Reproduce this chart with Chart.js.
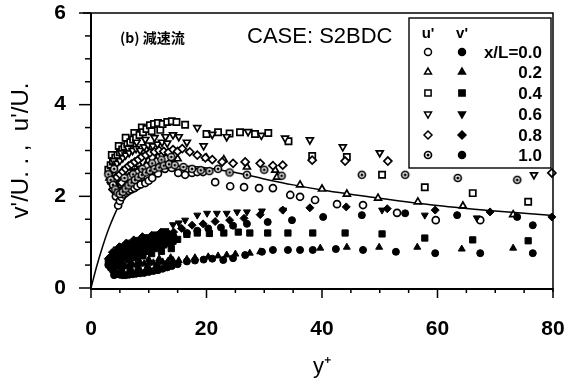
<!DOCTYPE html>
<html><head><meta charset="utf-8">
<script src="https://cdn.jsdelivr.net/npm/chart.js@4/dist/chart.umd.min.js"></script>
<style>html,body{margin:0;padding:0;background:#fff;}canvas{display:block;}</style>
</head><body>
<canvas id="c" width="578" height="385"></canvas>
<script>
// ---- data: [y+, value] ----
const seriesLabels = ["x/L=0.0", "0.2", "0.4", "0.6", "0.8", "1.0"];
const xTickLabels = ["0", "20", "40", "60", "80"];
const yTickLabels = ["0", "2", "4", "6"];

// u' (open markers)
const u00 = [[4.3,2.0],[4.7,1.8],[5.0,1.9],[5.3,1.98],[5.6,2.2],[5.7,2.04],[6.1,2.08],[6.5,2.12],[6.8,2.28],[7.0,2.15],[7.5,2.18],[8.0,2.22],[8.2,2.36],[8.6,2.26],[9.4,2.29],[9.7,2.44],[10.0,2.34],[10.6,2.4],[11.2,2.55],[11.6,2.5],[12.8,2.6],[13.4,2.68],[14.0,2.62],[15.1,2.51],[16.3,2.47],[17.5,2.51],[18.4,2.53],[19.4,2.53],[21.5,2.31],[24.1,2.22],[26.5,2.2],[29.1,2.18],[31.5,2.18],[34.5,2.03],[36.2,1.99],[38.8,1.92],[42.6,1.83],[47.1,1.81],[53.0,1.64],[59.7,1.48],[67.4,1.48]];
const u02 = [[3.2,2.4],[3.6,2.32],[3.8,2.5],[4.0,2.26],[4.4,2.22],[4.8,2.2],[5.2,2.24],[5.4,2.55],[5.6,2.3],[6.0,2.36],[6.5,2.42],[6.7,2.62],[7.0,2.48],[7.5,2.52],[8.0,2.56],[8.3,2.7],[8.7,2.6],[9.4,2.64],[9.9,2.78],[10.2,2.68],[11.0,2.7],[11.6,2.86],[12.0,2.74],[13.0,2.76],[13.5,2.9],[14.0,2.8],[15.0,2.82],[20.0,2.84],[23.0,2.8],[27.0,2.64],[31.9,2.57],[32.2,2.42],[36.2,2.25],[40.0,2.16],[44.3,2.05],[49.7,1.96],[56.6,1.88],[64.4,1.79],[73.1,1.6]];
const u04 = [[3.0,2.58],[3.4,2.68],[3.6,2.9],[3.8,2.76],[4.2,2.84],[4.6,2.9],[4.8,3.1],[5.0,2.96],[5.4,3.02],[5.8,3.08],[6.0,3.28],[6.3,3.13],[6.8,3.18],[7.3,3.24],[7.5,3.38],[7.8,3.28],[8.4,3.34],[8.8,3.5],[9.0,3.4],[9.6,3.47],[10.2,3.55],[10.5,3.42],[10.9,3.58],[11.6,3.6],[12.0,3.45],[12.4,3.58],[13.2,3.62],[14.0,3.64],[14.8,3.62],[16.3,3.56],[20.0,3.36],[22.0,3.4],[24.0,3.37],[25.8,3.4],[28.4,3.36],[30.7,3.38],[34.2,3.2],[38.3,2.88],[44.3,2.86],[50.4,2.47],[57.8,2.2],[66.1,2.07],[75.7,1.88]];
const u06 = [[3.3,2.5],[3.7,2.58],[3.9,2.78],[4.1,2.66],[4.5,2.72],[5.0,2.78],[5.2,2.95],[5.5,2.84],[6.0,2.9],[6.4,3.05],[6.6,2.95],[7.2,3.0],[7.8,3.04],[7.9,3.18],[8.5,3.0],[9.2,3.08],[9.4,3.24],[9.9,3.12],[10.7,3.1],[11.0,3.28],[11.5,3.14],[12.3,3.18],[12.9,3.3],[13.2,3.16],[14.2,3.34],[15.2,3.3],[16.6,3.18],[18.4,3.5],[19.5,3.1],[21.0,3.35],[23.5,3.3],[27.2,3.41],[29.5,3.33],[33.6,3.27],[37.9,3.23],[43.6,3.08],[50.0,2.95],[76.7,2.47]];
const u08 = [[3.5,2.3],[3.8,2.15],[4.0,2.36],[4.5,2.42],[5.0,2.48],[5.3,2.3],[5.5,2.54],[6.0,2.6],[6.5,2.66],[6.6,2.42],[7.0,2.7],[7.6,2.75],[8.0,2.52],[8.2,2.8],[8.8,2.86],[9.5,2.9],[9.6,2.66],[10.2,2.95],[11.0,2.97],[11.3,2.76],[11.8,3.0],[12.6,2.98],[13.0,2.82],[13.4,2.96],[14.2,3.02],[15.0,2.98],[15.8,3.04],[17.1,2.97],[18.4,2.9],[19.8,2.84],[21.0,2.8],[22.7,2.75],[24.6,2.72],[26.7,2.75],[29.3,2.72],[31.5,2.67],[33.2,2.68],[38.3,2.79],[44.0,2.77],[51.4,2.77],[79.8,2.51]];
const u10 = [[3.0,2.48],[3.4,2.36],[3.8,2.25],[4.0,2.6],[4.2,2.15],[4.6,2.08],[5.0,2.05],[5.5,2.1],[5.8,2.4],[6.0,2.17],[6.5,2.24],[7.0,2.3],[7.3,2.48],[7.6,2.36],[8.2,2.42],[8.8,2.47],[8.9,2.6],[9.5,2.52],[10.2,2.56],[10.6,2.72],[11.0,2.6],[11.8,2.63],[12.2,2.8],[12.6,2.67],[13.5,2.7],[13.9,2.86],[14.5,2.68],[16.0,2.64],[17.5,2.6],[19.0,2.57],[20.5,2.55],[22.0,2.6],[24.0,2.52],[27.0,2.47],[30.0,2.58],[33.0,2.45],[46.9,2.47],[54.4,2.47],[63.5,2.4],[73.8,2.36]];

// v' (filled markers)
const v00 = [[3.0,0.5],[3.4,0.44],[3.8,0.38],[4.0,0.28],[4.2,0.34],[4.6,0.31],[5.0,0.29],[5.3,0.36],[5.5,0.28],[6.0,0.28],[6.6,0.29],[6.8,0.38],[7.2,0.3],[7.8,0.31],[8.2,0.4],[8.5,0.32],[9.2,0.33],[9.8,0.42],[10.0,0.35],[10.8,0.37],[11.4,0.46],[11.6,0.39],[12.4,0.42],[13.0,0.52],[13.2,0.45],[14.0,0.48],[15.0,0.52],[16.6,0.58],[18.0,0.6],[19.5,0.62],[21.0,0.64],[22.9,0.61],[24.6,0.65],[26.7,0.72],[29.6,0.79],[31.5,0.83],[34.1,0.83],[36.2,0.83],[38.4,0.83],[42.4,0.85],[47.1,0.83],[52.8,0.79],[59.6,0.76],[67.4,0.76],[76.5,0.76]];
const v02 = [[3.2,0.56],[3.6,0.52],[3.8,0.58],[4.0,0.5],[4.5,0.47],[5.0,0.46],[5.3,0.55],[5.5,0.46],[6.0,0.47],[6.6,0.48],[6.9,0.56],[7.2,0.5],[7.8,0.51],[8.4,0.58],[8.5,0.52],[9.2,0.53],[10.0,0.54],[10.0,0.62],[10.8,0.55],[11.6,0.56],[11.8,0.64],[12.4,0.57],[13.3,0.58],[13.8,0.66],[14.2,0.6],[15.2,0.6],[16.6,0.63],[18.0,0.66],[20.3,0.68],[22.0,0.7],[23.5,0.72],[25.0,0.74],[27.5,0.76],[29.3,0.79],[39.7,0.87],[44.3,0.89],[49.9,0.89],[56.5,0.89],[64.2,0.85],[73.1,0.87]];
const v04 = [[3.0,0.58],[3.5,0.6],[4.0,0.62],[4.5,0.64],[5.0,0.66],[5.3,0.58],[5.6,0.68],[6.2,0.7],[6.5,0.62],[6.8,0.72],[7.4,0.74],[7.7,0.66],[8.0,0.76],[8.7,0.78],[9.0,0.7],[9.4,0.8],[10.2,0.83],[10.5,0.75],[11.0,0.86],[11.8,0.9],[12.2,0.8],[12.6,0.94],[13.4,0.98],[13.9,0.86],[14.2,1.02],[15.0,1.06],[16.6,1.17],[18.4,1.2],[20.5,1.19],[23.0,1.2],[25.5,1.22],[27.5,1.2],[30.6,1.2],[34.1,1.2],[38.4,1.2],[44.0,1.2],[50.4,1.18],[57.8,1.09],[66.1,1.05],[75.7,1.03]];
const v06 = [[3.2,0.62],[3.7,0.67],[4.2,0.72],[4.4,0.85],[4.7,0.76],[5.2,0.8],[5.6,0.92],[5.8,0.84],[6.4,0.88],[6.8,1.0],[7.0,0.92],[7.7,0.96],[8.1,1.06],[8.4,1.0],[9.2,1.02],[9.6,1.12],[10.0,1.05],[10.8,1.07],[11.2,1.18],[11.6,1.1],[12.5,1.13],[12.9,1.25],[13.3,1.18],[14.2,1.38],[15.2,1.42],[16.3,1.48],[18.4,1.59],[20.1,1.63],[21.8,1.63],[23.5,1.63],[25.3,1.66],[27.0,1.66],[29.6,1.68],[33.3,1.7],[50.4,1.7],[57.8,1.59],[66.8,1.53]];
const v08 = [[3.0,0.64],[3.5,0.7],[3.7,0.78],[4.0,0.75],[4.5,0.79],[4.9,0.9],[5.0,0.82],[5.6,0.86],[6.1,0.98],[6.2,0.9],[6.9,0.94],[7.4,1.05],[7.6,0.98],[8.4,1.02],[8.9,1.12],[9.2,1.04],[10.0,1.07],[10.5,1.15],[10.9,1.09],[11.8,1.11],[12.1,1.22],[12.6,1.14],[13.5,1.18],[14.3,1.22],[15.7,1.3],[17.5,1.37],[19.4,1.4],[21.5,1.45],[24.0,1.48],[26.5,1.52],[29.3,1.6],[33.2,1.7],[37.9,1.75],[44.2,1.77],[51.3,1.73],[59.6,1.7],[69.1,1.66],[79.8,1.55]];
const v10 = [[3.3,0.6],[3.8,0.64],[4.3,0.68],[4.6,0.62],[4.8,0.72],[5.3,0.75],[5.8,0.78],[6.0,0.7],[6.4,0.82],[7.0,0.85],[7.3,0.76],[7.7,0.88],[8.4,0.91],[8.8,0.82],[9.2,0.94],[10.0,0.97],[10.4,0.88],[10.8,0.99],[11.6,1.02],[12.0,0.92],[12.5,1.05],[13.4,1.08],[13.8,0.96],[14.3,1.12],[16.6,1.2],[18.4,1.25],[20.3,1.3],[22.5,1.32],[24.6,1.36],[27.0,1.4],[30.6,1.44],[34.8,1.48],[40.2,1.55],[46.9,1.59],[54.4,1.63],[63.4,1.59],[73.8,1.55],[76.5,1.37]];

// reference curve
const refLine = [[0,0],[1,0.48],[2,0.9],[3,1.27],[4,1.58],[5,1.84],[6,2.05],[7,2.2],[8,2.33],[10,2.5],[12,2.6],[14,2.65],[16,2.66],[20,2.62],[25,2.52],[30,2.38],[35,2.25],[40,2.14],[50,1.96],[60,1.8],[70,1.68],[80,1.58]];

// ---- styling ----
const FONT = '"Liberation Sans", Arial, sans-serif';
function dotCircle(r) {
  const s = 2 * Math.ceil(r + 2);
  const c = document.createElement('canvas'); c.width = s; c.height = s;
  const g = c.getContext('2d');
  g.beginPath(); g.arc(s / 2, s / 2, r, 0, Math.PI * 2);
  g.fillStyle = '#fff'; g.fill(); g.lineWidth = 1.7; g.strokeStyle = '#000'; g.stroke();
  g.beginPath(); g.arc(s / 2, s / 2, 1.5, 0, Math.PI * 2); g.fillStyle = '#000'; g.fill();
  return c;
}
const dotImg = dotCircle(3.5);
const markers = [
  {style: 'circle', rot: 0, r: 3.5},
  {style: 'triangle', rot: 0, r: 4.0},
  {style: 'rect', rot: 0, r: 4.4},
  {style: 'triangle', rot: 180, r: 4.0},
  {style: 'rectRot', rot: 0, r: 4.0},
  {style: dotImg, rot: 0, r: 3.5}
];
const uSeries = [u00, u02, u04, u06, u08, u10];
const vSeries = [v00, v02, v04, v06, v08, v10];
const toXY = a => a.map(p => ({x: p[0], y: p[1]}));

const datasets = [];
datasets.push({
  type: 'line', label: 'ref', data: toXY(refLine), borderColor: '#000', borderWidth: 1.5,
  pointRadius: 0, showLine: true, fill: false, cubicInterpolationMode: 'monotone', order: 20, clip: false
});
uSeries.forEach((s, i) => datasets.push({
  label: "u' " + seriesLabels[i], data: toXY(s), showLine: false,
  pointStyle: markers[i].style, rotation: markers[i].rot, pointRadius: markers[i].r,
  borderColor: '#000', backgroundColor: '#fff', borderWidth: 1.7, order: 10 - i, clip: false
}));
vSeries.forEach((s, i) => datasets.push({
  label: "v' " + seriesLabels[i], data: toXY(s), showLine: false,
  pointStyle: i === 5 ? 'circle' : markers[i].style, rotation: markers[i].rot, pointRadius: markers[i].r,
  borderColor: '#000', backgroundColor: '#000', borderWidth: 1, order: 1, clip: false
}));

const framePlugin = {
  id: 'frame',
  afterDraw(chart) {
    const {ctx, chartArea: a, scales: {x, y}} = chart;
    ctx.save();
    ctx.strokeStyle = '#000';
    ctx.lineWidth = 1.5;
    ctx.beginPath();
    ctx.moveTo(a.left - 8, a.top); ctx.lineTo(a.right, a.top); ctx.lineTo(a.right, a.bottom + 4);
    ctx.stroke();
    ctx.lineWidth = 2;
    ctx.beginPath();
    ctx.moveTo(a.left, a.top); ctx.lineTo(a.left, a.bottom + 1); ctx.lineTo(a.right, a.bottom + 1);
    ctx.stroke();
    ctx.lineWidth = 1.5;
    for (let v = 0; v <= 80; v += 5) {
      const px = x.getPixelForValue(v);
      const len = v % 20 === 0 ? 10 : 5;
      ctx.beginPath(); ctx.moveTo(px, a.bottom); ctx.lineTo(px, a.bottom + len); ctx.stroke();
    }
    for (let v = 0; v <= 6; v += 0.5) {
      const py = y.getPixelForValue(v);
      const len = v % 2 === 0 ? 12 : 6;
      ctx.beginPath(); ctx.moveTo(a.left, py); ctx.lineTo(a.left - len, py); ctx.stroke();
    }
    // annotations
    ctx.fillStyle = '#000';
    ctx.textBaseline = 'alphabetic';
    ctx.textAlign = 'left';
    ctx.font = '600 14px "Noto Sans CJK JP", sans-serif';
    ctx.fillText('(b) 減速流', 120, 43);
    ctx.font = '22px ' + FONT;
    ctx.fillText('CASE: S2BDC', 247, 43);
    // legend box
    const L = 409, T = 18, R = 551, B = 168;
    ctx.fillStyle = '#fff';
    ctx.fillRect(L, T, R - L, B - T);
    ctx.lineWidth = 1.4;
    ctx.strokeRect(L, T, R - L, B - T);
    ctx.fillStyle = '#000';
    ctx.font = 'bold 15px ' + FONT;
    ctx.textAlign = 'center';
    ctx.fillText("u'", 428, 38);
    ctx.fillText("v'", 462, 38);
    ctx.font = 'bold 17px ' + FONT;
    ctx.textAlign = 'right';
    const rowY = [52, 72, 93, 114, 135, 155];
    seriesLabels.forEach((lab, i) => {
      const yy = rowY[i];
      const m = markers[i];
      ctx.fillStyle = '#fff'; ctx.strokeStyle = '#000'; ctx.lineWidth = 1.5;
      Chart.helpers.drawPoint(ctx, {pointStyle: m.style, rotation: m.rot, radius: m.r, borderWidth: 1.5}, 428, yy);
      ctx.fillStyle = '#000';
      Chart.helpers.drawPoint(ctx, {pointStyle: i === 5 ? 'circle' : m.style, rotation: m.rot, radius: m.r, borderWidth: 1}, 462, yy);
      ctx.fillStyle = '#000';
      ctx.fillText(lab, 542, yy + 6);
    });
    ctx.restore();
  }
};

new Chart(document.getElementById('c'), {
  type: 'scatter',
  data: {datasets},
  options: {
    responsive: false, animation: false, devicePixelRatio: 1,
    layout: {padding: {top: 13, right: 25, left: 0, bottom: 0}},
    plugins: {legend: {display: false}, tooltip: {enabled: false}},
    scales: {
      x: {
        type: 'linear', min: 0, max: 80,
        ticks: {stepSize: 20, padding: 21, color: '#000', maxRotation: 0,
          font: {family: FONT, size: 21, weight: 'bold'},
          callback: (v) => xTickLabels[v / 20] !== undefined ? xTickLabels[v / 20] : ''},
        grid: {display: false}, border: {display: false},
        title: {display: true, text: 'y\u207A', color: '#000', font: {family: FONT, size: 22}, padding: {top: 0, bottom: 5}},
        afterFit: (s) => { s.height = 97; s.paddingLeft = 0; s.paddingRight = 0; }
      },
      y: {
        type: 'linear', min: 0, max: 6,
        ticks: {stepSize: 2, padding: 17, color: '#000',
          font: {family: FONT, size: 21, weight: 'bold'},
          callback: (v) => yTickLabels[v / 2] !== undefined ? yTickLabels[v / 2] : ''},
        grid: {display: false}, border: {display: false},
        title: {display: true, text: "v'/U. . ,  u'/U.", color: '#000', font: {family: FONT, size: 24}, padding: {top: 7, bottom: 0}},
        afterFit: (s) => { s.width = 91; s.paddingTop = 0; s.paddingBottom = 0; }
      }
    }
  },
  plugins: [framePlugin]
});
</script>
</body></html>
